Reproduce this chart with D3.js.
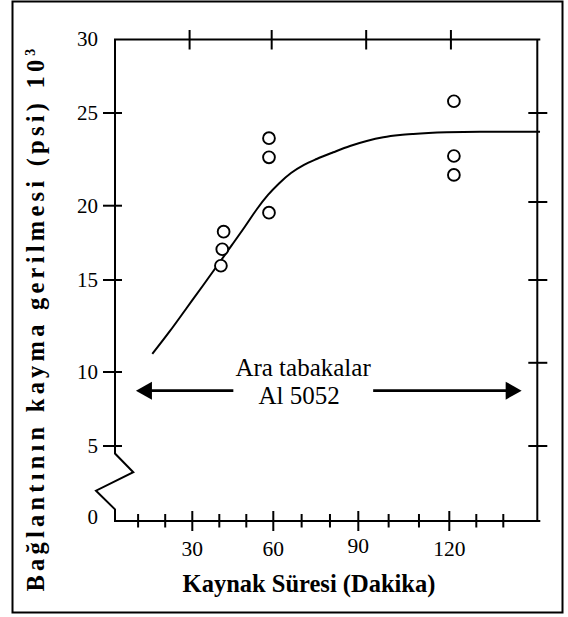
<!DOCTYPE html>
<html>
<head>
<meta charset="utf-8">
<script src="https://cdn.jsdelivr.net/npm/d3@7/dist/d3.min.js"></script>
<style>
  html, body { margin: 0; padding: 0; background: #fff; }
  svg { display: block; }
  svg text, svg tspan { font-family: "Liberation Serif", "Times New Roman", Times, serif; fill: #000; }
</style>
</head>
<body>
<svg id="chart" width="568" height="617"></svg>
<script>
// ---- data ----
const yTickValues = [0, 5, 10, 15, 20, 25, 30];
const yTickLabels = ["0", "5", "10", "15", "20", "25", "30"];
const leftTicks = [5, 10, 15, 20, 25];
const rightTicks = [5, 10.5, 15, 20.2, 25];
const xMajorTicks = [30, 60, 90, 120];
const xMajorLabels = ["30", "60", "90", "120"];
const xMinorTicks = [10, 20, 40, 50, 70, 80, 100, 110, 130, 140];
const topTicks = [29, 59.4, 92.6, 120.6];

const pointsTime = [41.6, 41.1, 40.6, 58.4, 58.4, 58.4, 121.7, 121.7, 121.7];
const pointsStress = [18.25, 17.07, 15.96, 23.64, 22.61, 19.53, 25.8, 22.68, 21.66];

const curveTime = [15.24, 21.77, 27.93, 33.96, 39.52, 44.7, 49.52, 53.96, 58.04, 62.01, 66.25, 70.83, 75.32, 81.17, 87.07, 92.77, 98.24, 103.75, 108.13, 119.14, 131.37, 153.6];
const curveStress = [10.98, 12.23, 13.48, 14.7, 16.04, 17.36, 18.6, 19.78, 20.58, 21.2, 21.76, 22.2, 22.52, 22.88, 23.22, 23.49, 23.69, 23.81, 23.87, 23.96, 23.99, 23.99];

const annotationLines = ["Ara tabakalar", "Al 5052"];
const arrowLeft = { from: 45.2, to: 9.2, y: 8.74 };
const arrowRight = { from: 94.9, to: 146.8, y: 8.74 };
const annotationAt = { x: 70.5, y: 9.75 };

const xTitle = "Kaynak Süresi (Dakika)";
const yTitle = "Bağlantının kayma gerilmesi (psi) 10";
const yTitleSup = "3";

// ---- scales ----
const x = d3.scaleLinear()
  .domain([0, 30, 60, 90, 120, 150])
  .range([111, 192.3, 273.3, 358.3, 449.3, 530.3]);
const y = d3.scaleLinear()
  .domain(yTickValues)
  .range([521, 446, 372, 280, 205.7, 113, 39.5]);

const FONT = "'Liberation Serif', 'Times New Roman', Times, serif";
const svg = d3.select("#chart");
const SW = 2;

// outer frame
svg.append("rect")
  .attr("x", 12.5).attr("y", 1.5).attr("width", 550).attr("height", 611)
  .attr("fill", "none").attr("stroke", "#000").attr("stroke-width", 2);

const axLeft = 115, axRight = 537.3;
const axTop = y(30), axBottom = y(0);

const g = svg.append("g").attr("stroke", "#000").attr("stroke-width", SW).attr("fill", "none");

// left axis with break
const breakPts = [[0, 30], [0, 4.5], [18.3, 3.25], [-19, 2.02], [0, 0.78], [0, 0]];
g.append("path")
  .attr("d", d3.line().x(d => axLeft + d[0]).y(d => y(d[1]))(breakPts));
// top axis
g.append("line").attr("x1", axLeft - 1).attr("x2", axRight + 3).attr("y1", axTop).attr("y2", axTop);
// bottom axis
g.append("line").attr("x1", axLeft - 1).attr("x2", axRight + 3).attr("y1", axBottom).attr("y2", axBottom);
// right axis
g.append("line").attr("x1", axRight).attr("x2", axRight).attr("y1", axTop).attr("y2", axBottom + 1);

// left ticks
g.selectAll(".lt").data(leftTicks).enter().append("line")
  .attr("x1", axLeft - 12).attr("x2", axLeft + 7)
  .attr("y1", d => y(d)).attr("y2", d => y(d));
// right ticks
g.selectAll(".rt").data(rightTicks).enter().append("line")
  .attr("x1", axRight - 9).attr("x2", axRight + 10)
  .attr("y1", d => y(d)).attr("y2", d => y(d));
// bottom ticks
g.selectAll(".bM").data(xMajorTicks).enter().append("line")
  .attr("x1", d => x(d)).attr("x2", d => x(d))
  .attr("y1", axBottom - 10).attr("y2", axBottom + 10);
g.selectAll(".bm").data(xMinorTicks).enter().append("line")
  .attr("x1", d => x(d)).attr("x2", d => x(d))
  .attr("y1", axBottom - 7).attr("y2", axBottom + 6.5);
// top ticks
g.selectAll(".tt").data(topTicks).enter().append("line")
  .attr("x1", d => x(d)).attr("x2", d => x(d))
  .attr("y1", axTop - 9.5).attr("y2", axTop + 10);

// y tick labels
svg.selectAll(".yl").data(yTickValues).enter().append("text")
  .attr("x", 98)
  .attr("y", d => y(d) + (d === 0 ? -4 : d === 30 ? -1 : 0))
  .attr("dy", "0.34em")
  .attr("text-anchor", "end")
  .style("font-family", FONT).style("font-size", "21px")
  .text((d, i) => yTickLabels[i]);

// x tick labels
svg.selectAll(".xl").data(xMajorTicks).enter().append("text")
  .attr("x", d => x(d))
  .attr("y", (d, i) => i === 2 ? 552.5 : 555.5)
  .attr("text-anchor", "middle")
  .style("font-family", FONT).style("font-size", "21.5px")
  .text((d, i) => xMajorLabels[i]);

// curve
svg.append("path")
  .datum(curveTime.map((t, i) => [t, curveStress[i]]))
  .attr("fill", "none").attr("stroke", "#000").attr("stroke-width", 2)
  .attr("d", d3.line().x(d => x(d[0])).y(d => y(d[1])).curve(d3.curveMonotoneX));

// data points
svg.selectAll(".pt").data(pointsTime.map((t, i) => [t, pointsStress[i]])).enter().append("circle")
  .attr("cx", d => x(d[0])).attr("cy", d => y(d[1])).attr("r", 5.9)
  .attr("fill", "#fff").attr("stroke", "#000").attr("stroke-width", 1.9);

// annotation arrows
function arrow(a) {
  const x0 = x(a.from), x1 = x(a.to), yy = y(a.y);
  const dir = x1 > x0 ? 1 : -1;
  const headLen = 16, headHalf = 9;
  svg.append("line")
    .attr("x1", x0).attr("x2", x1 - dir * headLen * 0.6).attr("y1", yy).attr("y2", yy)
    .attr("stroke", "#000").attr("stroke-width", 2.6);
  svg.append("path")
    .attr("d", `M${x1},${yy} L${x1 - dir * headLen},${yy - headHalf} L${x1 - dir * headLen},${yy + headHalf} Z`)
    .attr("fill", "#000");
}
arrow(arrowLeft);
arrow(arrowRight);

// annotation text
const ann = svg.append("text")
  .attr("x", x(annotationAt.x)).attr("y", y(annotationAt.y))
  .attr("text-anchor", "middle")
  .style("font-family", FONT).style("font-size", "25px");
ann.append("tspan").attr("x", x(annotationAt.x)).text(annotationLines[0]);
ann.append("tspan").attr("x", x(annotationAt.x) - 4).attr("dy", 28.5).text(annotationLines[1]);

// x axis title
svg.append("text")
  .attr("x", 309).attr("y", 591.5)
  .attr("text-anchor", "middle")
  .style("font-family", FONT).style("font-size", "24.5px").style("font-weight", "bold")
  .text(xTitle);

// y axis title (rotated, letter-spaced)
const yt = svg.append("text")
  .attr("transform", "translate(44,318) rotate(-90)")
  .attr("text-anchor", "middle")
  .style("font-family", FONT).style("font-size", "24.5px").style("font-weight", "bold");
yt.append("tspan").text(yTitle);
yt.append("tspan").style("font-size", "14px").attr("dy", -9).text(yTitleSup);
// fit letter spacing to the reference length
const natural = yt.node().getComputedTextLength();
const nChars = (yTitle + yTitleSup).length;
const target = 543;
const ls = Math.max(0, (target - natural) / (nChars - 1));
yt.style("letter-spacing", ls + "px");
</script>
</body>
</html>
